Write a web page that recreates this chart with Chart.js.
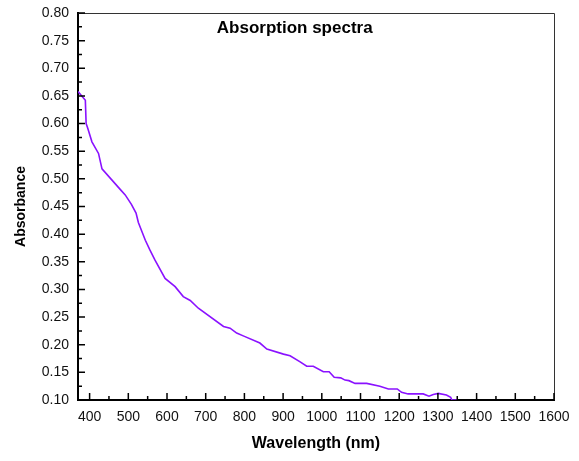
<!DOCTYPE html>
<html>
<head>
<meta charset="utf-8">
<script src="https://cdn.jsdelivr.net/npm/chart.js@4"></script>
<style>
  body { margin: 0; background: #fff; }
  #wrap { width: 579px; height: 461px; }
</style>
</head>
<body>
<div id="wrap"><canvas id="absChart" width="579" height="461"></canvas></div>
<script>
// values
const wavelengths = [370, 389, 391, 395, 406, 423, 432, 479, 492, 508, 520, 526, 544, 556, 569, 595,
    621, 642, 660, 681, 746, 763, 780, 797, 840, 858, 901, 918, 944, 961, 978, 1004, 1019, 1032,
    1049, 1060, 1070, 1086, 1116, 1150, 1172, 1195, 1206, 1223, 1262, 1277, 1288, 1301, 1322,
    1333, 1336, 1352];
const absorbance = [0.658, 0.642, 0.600, 0.592, 0.567, 0.546, 0.518, 0.481, 0.471, 0.454, 0.438,
    0.421, 0.389, 0.371, 0.353, 0.320, 0.305, 0.287, 0.280, 0.266, 0.233, 0.230, 0.221, 0.216,
    0.203, 0.192, 0.183, 0.180, 0.169, 0.161, 0.161, 0.151, 0.151, 0.141, 0.140, 0.136, 0.135,
    0.130, 0.130, 0.125, 0.120, 0.120, 0.114, 0.111, 0.111, 0.107, 0.110, 0.112, 0.109, 0.105,
    0.100, 0.100];
const xTickLabels = [400, 500, 600, 700, 800, 900, 1000, 1100, 1200, 1300, 1400, 1500, 1600];
const yTickLabels = [0.10, 0.15, 0.20, 0.25, 0.30, 0.35, 0.40, 0.45, 0.50, 0.55, 0.60, 0.65, 0.70, 0.75, 0.80];
const chartTitle = 'Absorption spectra';

const fontFamily = '"Liberation Sans", Arial, sans-serif';

// inward ticks, frame and the title inside the plot
const framePlugin = {
    id: 'frame',
    afterDraw(chart) {
        const { ctx, chartArea: a, scales: { x, y } } = chart;
        ctx.save();
        ctx.strokeStyle = '#333';
        ctx.lineWidth = 1;
        ctx.beginPath();
        ctx.moveTo(a.left, a.top + 0.5);
        ctx.lineTo(a.right + 0.5, a.top + 0.5);
        ctx.lineTo(a.right + 0.5, a.bottom);
        ctx.stroke();

        ctx.strokeStyle = '#000';
        ctx.lineWidth = 1.5;
        ctx.beginPath();
        xTickLabels.forEach(v => {
            const px = x.getPixelForValue(v);
            ctx.moveTo(px, a.bottom);
            ctx.lineTo(px, a.bottom - 7);
            const mid = v - 50;
            if (mid > x.min) {
                const mx = x.getPixelForValue(mid);
                ctx.moveTo(mx, a.bottom);
                ctx.lineTo(mx, a.bottom - 4);
            }
        });
        yTickLabels.forEach((v, i) => {
            const py = y.getPixelForValue(v);
            ctx.moveTo(a.left, py);
            ctx.lineTo(a.left + 7, py);
            if (i > 0) {
                const my = y.getPixelForValue(v - 0.025);
                ctx.moveTo(a.left, my);
                ctx.lineTo(a.left + 4, my);
            }
        });
        ctx.stroke();

        ctx.fillStyle = '#000';
        ctx.font = 'bold 17px ' + fontFamily;
        ctx.textAlign = 'center';
        ctx.textBaseline = 'middle';
        ctx.fillText(chartTitle, x.getPixelForValue(930), a.top + 15);
        ctx.restore();
    }
};

new Chart(document.getElementById('absChart'), {
    type: 'line',
    data: {
        datasets: [{
            data: wavelengths.map((w, i) => ({ x: w, y: absorbance[i] })),
            borderColor: '#8a12ff',
            borderWidth: 1.6,
            pointRadius: 0,
            tension: 0,
            fill: false,
        }]
    },
    options: {
        responsive: false,
        animation: false,
        layout: { padding: { left: 0, top: 13, right: 25, bottom: 0 } },
        plugins: { legend: { display: false }, tooltip: { enabled: false } },
        scales: {
            x: {
                type: 'linear',
                min: 370,
                max: 1600,
                grid: { display: false },
                border: { display: true, color: '#000', width: 2 },
                afterBuildTicks: scale => { scale.ticks = xTickLabels.map(v => ({ value: v })); },
                afterFit: scale => { scale.height = 61; },
                ticks: {
                    padding: 1,
                    maxRotation: 0,
                    color: '#111',
                    font: { family: fontFamily, size: 14 },
                    callback: v => String(v),
                },
                title: {
                    display: true,
                    text: 'Wavelength (nm)',
                    color: '#000',
                    padding: { top: 8, bottom: 8 },
                    font: { family: fontFamily, size: 16, weight: 'bold' },
                },
            },
            y: {
                type: 'linear',
                min: 0.1,
                max: 0.8,
                grid: { display: false },
                border: { display: true, color: '#000', width: 2 },
                afterBuildTicks: scale => { scale.ticks = yTickLabels.map(v => ({ value: v })); },
                afterFit: scale => {
                    scale.width = 78;
                    scale.paddingTop = 0;
                    scale.paddingBottom = 0;
                },
                ticks: {
                    padding: 1,
                    color: '#111',
                    font: { family: fontFamily, size: 14 },
                    callback: v => v.toFixed(2),
                },
                title: {
                    display: true,
                    text: 'Absorbance',
                    color: '#000',
                    padding: { top: 13, bottom: 0 },
                    font: { family: fontFamily, size: 14, weight: 'bold' },
                },
            },
        },
    },
    plugins: [framePlugin],
});
</script>
</body>
</html>
